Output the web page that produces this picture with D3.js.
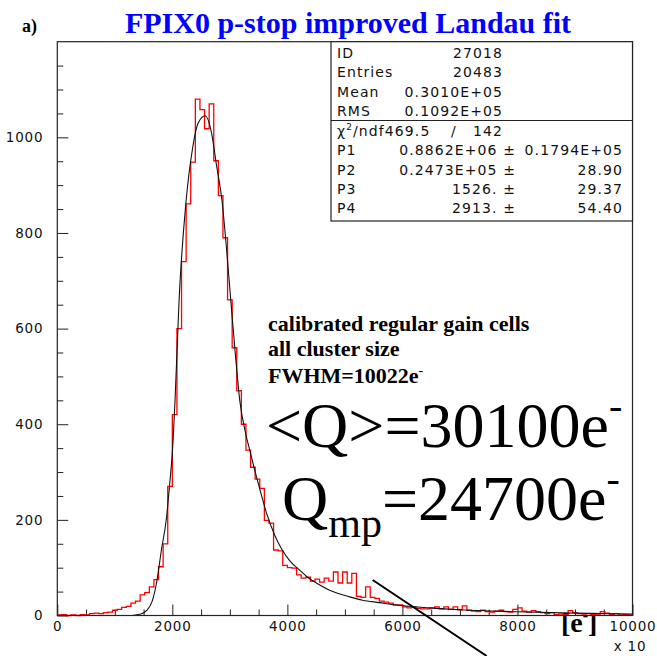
<!DOCTYPE html>
<html>
<head>
<meta charset="utf-8">
<script src="https://cdn.jsdelivr.net/npm/d3@7"></script>
<style>
  body { margin: 0; background: #fff; }
  .ax text { font-family: "DejaVu Sans", sans-serif; font-size: 13.5px; letter-spacing: 0.8px; fill: #111; }
  .stats text { font-family: "DejaVu Sans", sans-serif; font-size: 14px; letter-spacing: 1.1px; fill: #111; }
</style>
</head>
<body>
<div id="chart"></div>
<script>
// Charge histogram, 125 bins of 80 (x10 e-) from 0 to 10000
const binWidth = 80;
const counts = [
  1, 2, 0, 1, 0, 2, 1, 4, 5, 4,
  6, 7, 11, 13, 17, 19, 26, 30, 43, 48,
  60, 75, 102, 150, 270, 420, 600, 740, 861, 948,
  1080, 1058, 1018, 1070, 951, 878, 790, 660, 560, 470,
  400, 346, 310, 285, 266, 199, 193, 137, 135, 105,
  100, 99, 85, 78, 80, 72, 76, 70, 78, 72,
  91, 68, 91, 68, 88, 40, 38, 60, 38, 36,
  30, 28, 26, 22, 22, 18, 16, 17, 15, 14,
  14, 16, 18, 14, 18, 13, 18, 12, 20, 11,
  9, 8, 11, 8, 7, 9, 11, 8, 7, 13,
  16, 9, 7, 10, 8, 6, 4, 6, 2, 3,
  2, 10, 6, 4, 3, 4, 2, 3, 8, 5,
  2, 4, 1, 2, 1
];

// Landau fit curve
const fitX = [1300, 1450, 1550, 1650, 1725, 1810, 1900, 1955, 2003, 2047, 2117, 2240, 2345, 2450, 2570,
  2680, 2770, 2863, 2940, 3016, 3100, 3172, 3276, 3345, 3430, 3519, 3635, 3780, 3896, 4050,
  4213, 4350, 4503, 4734, 5082, 5307, 5600, 5892, 6470, 7000, 7975, 9000, 10000];
const fitY = [0, 3, 10, 30, 68, 137, 206, 277, 346, 450, 659, 868, 972, 1030, 1045,
  1010, 940, 868, 770, 659, 540, 450, 380, 346, 305, 265, 215, 168, 140, 113,
  95, 80, 68, 53, 39, 32, 27, 22, 16, 12, 8, 5, 3];

const xMajor = [0, 2000, 4000, 6000, 8000, 10000];
const yMajor = [0, 200, 400, 600, 800, 1000];

const statRows = [
  ['ID', '27018'],
  ['Entries', '20483'],
  ['Mean', '0.3010E+05'],
  ['RMS', '0.1092E+05']
];
const fitRows = [
  ['P1', '0.8862E+06 \u00b1', '0.1794E+05'],
  ['P2', '0.2473E+05 \u00b1', '28.90'],
  ['P3', '1526. \u00b1', '29.37'],
  ['P4', '2913. \u00b1', '54.40']
];

const W = 657, H = 656;
const svg = d3.select('#chart').append('svg')
  .attr('width', W).attr('height', H)
  .style('font-family', '"Liberation Serif", "Times New Roman", serif');

const x = d3.scaleLinear().domain([0, 10000]).range([57.3, 632.5]);
const y = d3.scaleLinear().domain([0, 1200]).range([615.5, 41.7]);

// title
svg.append('text').attr('x', 348).attr('y', 33).attr('text-anchor', 'middle')
  .attr('font-size', 30).attr('font-weight', 'bold').attr('fill', '#0000ff')
  .text('FPIX0 p-stop improved Landau fit');
svg.append('text').attr('x', 22).attr('y', 32)
  .attr('font-size', 18).attr('font-weight', 'bold').text('a)');

// axes (ticks inside)
const minorX = d3.range(0, 10001, 500).filter(v => v % 2000 !== 0);
const minorY = d3.range(0, 1200, 50).filter(v => v % 200 !== 0);
const fmt = d3.format('d');

svg.append('g').attr('class', 'ax').attr('transform', `translate(0,${y(0)})`)
  .call(d3.axisBottom(x).tickValues(xMajor).tickFormat(fmt).tickSize(-11).tickSizeOuter(0).tickPadding(6));
svg.append('g').attr('class', 'ax').attr('transform', `translate(0,${y(0)})`)
  .call(d3.axisBottom(x).tickValues(minorX).tickSize(-6).tickSizeOuter(0).tickFormat(''));
svg.append('g').attr('class', 'ax').attr('transform', `translate(${x(0)},0)`)
  .call(d3.axisLeft(y).tickValues(yMajor).tickFormat(fmt).tickSize(-11).tickSizeOuter(0).tickPadding(14));
svg.append('g').attr('class', 'ax').attr('transform', `translate(${x(0)},0)`)
  .call(d3.axisLeft(y).tickValues(minorY).tickSize(-6).tickSizeOuter(0).tickFormat(''));
svg.selectAll('.ax .domain').remove();
svg.selectAll('.ax line').attr('stroke', '#222').attr('stroke-width', 1);

svg.append('text').attr('x', 630).attr('y', 651)
  .attr('text-anchor', 'middle')
  .style('font-family', '"DejaVu Sans", sans-serif').style('font-size', '13.5px')
  .style('letter-spacing', '0.8px').attr('fill', '#111').text('x 10');

// x unit label [e-]
const ul = svg.append('text').attr('x', 561).attr('y', 632)
  .attr('font-size', 28).attr('font-weight', 'bold');
ul.append('tspan').text('[e');
ul.append('tspan').attr('dy', -11).attr('font-size', 16).text('-');
ul.append('tspan').attr('dy', 11).text(']');

// histogram
const histPts = counts.map((c, i) => [i * binWidth, c]);
histPts.push([10000, counts[counts.length - 1]]);
svg.append('path')
  .attr('d', d3.line().x(d => x(d[0])).y(d => y(d[1])).curve(d3.curveStepAfter)(histPts))
  .attr('fill', 'none').attr('stroke', '#ff0000').attr('stroke-width', 1.3);

// fit
svg.append('path')
  .attr('d', d3.line().x((d, i) => x(fitX[i])).y(d => y(d)).curve(d3.curveMonotoneX)(fitY))
  .attr('fill', 'none').attr('stroke', '#111').attr('stroke-width', 1.1);

// frame
svg.append('rect').attr('x', x(0)).attr('y', y(1200))
  .attr('width', x(10000) - x(0)).attr('height', y(0) - y(1200))
  .attr('fill', 'none').attr('stroke', '#222').attr('stroke-width', 1.2);

// stats box
const st = svg.append('g').attr('class', 'stats');
const bx0 = 331, bx1 = x(10000), by0 = y(1200), bySep = 120.5, by1 = 221;
st.append('rect').attr('x', bx0).attr('y', by0).attr('width', bx1 - bx0).attr('height', by1 - by0)
  .attr('fill', '#fff').attr('stroke', '#222').attr('stroke-width', 1.2);
st.append('line').attr('x1', bx0).attr('x2', bx1).attr('y1', bySep).attr('y2', bySep)
  .attr('stroke', '#222').attr('stroke-width', 1.2);

const rowY1 = [58, 77.3, 96.6, 115.9];
statRows.forEach((r, i) => {
  st.append('text').attr('x', 337).attr('y', rowY1[i]).text(r[0]);
  st.append('text').attr('x', 503).attr('y', rowY1[i]).attr('text-anchor', 'end').text(r[1]);
});

const chi = st.append('text').attr('x', 337).attr('y', 136);
chi.append('tspan').text('\u03c7');
chi.append('tspan').attr('dy', -6).attr('font-size', 9).text('2');
chi.append('tspan').attr('dy', 6).text('/ndf469.5');
st.append('text').attr('x', 451).attr('y', 136).text('/');
st.append('text').attr('x', 503).attr('y', 136).attr('text-anchor', 'end').text('142');

const rowY2 = [155.3, 174.6, 193.9, 213.2];
fitRows.forEach((r, i) => {
  st.append('text').attr('x', 337).attr('y', rowY2[i]).text(r[0]);
  st.append('text').attr('x', 516).attr('y', rowY2[i]).attr('text-anchor', 'end').text(r[1]);
  st.append('text').attr('x', 623).attr('y', rowY2[i]).attr('text-anchor', 'end').text(r[2]);
});

// annotations
const notes = ['calibrated regular gain cells', 'all cluster size', 'FWHM=10022e'];
const noteY = [331, 356, 383];
notes.forEach((t, i) => {
  const tx = svg.append('text').attr('x', 268).attr('y', noteY[i])
    .attr('font-size', 22).attr('font-weight', 'bold');
  tx.append('tspan').text(t);
  if (i === 2) tx.append('tspan').attr('dy', -8).attr('font-size', 13).text('-');
});

const q1 = svg.append('text').attr('x', 266).attr('y', 447).attr('font-size', 64);
q1.append('tspan').text('<Q>=30100e');
q1.append('tspan').attr('dy', -28).attr('font-size', 40).text('-');

const q2 = svg.append('text').attr('x', 282).attr('y', 520).attr('font-size', 64);
q2.append('tspan').text('Q');
q2.append('tspan').attr('dy', 17).attr('font-size', 42).text('mp');
q2.append('tspan').attr('dy', -17).text('=24700e');
q2.append('tspan').attr('dy', -28).attr('font-size', 40).text('-');

// pointer line
svg.append('line').attr('x1', 372.7).attr('y1', 580).attr('x2', 486.7).attr('y2', 656)
  .attr('stroke', '#000').attr('stroke-width', 2);
</script>
</body>
</html>
